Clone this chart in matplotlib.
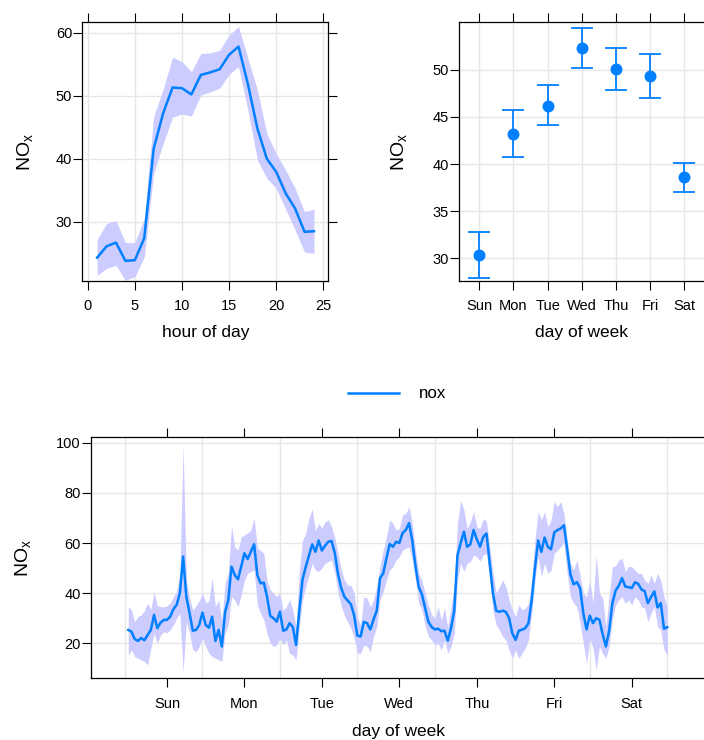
import numpy as np
import matplotlib
matplotlib.use('Agg')
import matplotlib.pyplot as plt
from matplotlib.lines import Line2D

plt.rcParams['font.family'] = ['Liberation Sans', 'DejaVu Sans']
plt.rcParams['mathtext.fontset'] = 'custom'
plt.rcParams['mathtext.rm'] = 'Liberation Sans'
plt.rcParams['mathtext.it'] = 'Liberation Sans'

LINE = '#0080ff'
BAND = '#ccccff'
GRID = '#e6e6e6'
YLAB = r'NO$_{\mathrm{x}}$'

# ---- hour of day ----
hours = list(range(1, 25))
hour_mean = [24.3, 26.1, 26.7, 23.8, 23.9, 27.4, 41.6, 47.2, 51.3, 51.2, 50.2, 53.3,
             53.7, 54.2, 56.5, 57.8, 51.8, 44.8, 40.0, 37.9, 34.5, 32.1, 28.4, 28.5]
hour_upper = [27.2, 29.7, 30.2, 26.7, 26.7, 30.5, 46.7, 51.0, 56.1, 55.4, 53.8, 56.7,
              56.8, 57.2, 59.6, 61.0, 55.9, 50.9, 44.0, 40.8, 38.2, 35.3, 31.6, 32.0]
hour_lower = [21.5, 22.6, 23.1, 20.7, 21.3, 24.4, 37.7, 42.4, 46.6, 47.1, 46.8, 50.1,
              50.6, 51.2, 53.4, 54.6, 47.7, 39.8, 36.9, 35.3, 32.0, 28.7, 25.2, 25.0]

# ---- day of week ----
days = ['Sun', 'Mon', 'Tue', 'Wed', 'Thu', 'Fri', 'Sat']
day_mean = [30.4, 43.2, 46.2, 52.3, 50.1, 49.3, 38.6]
day_lower = [27.9, 40.7, 44.1, 50.2, 47.9, 47.0, 37.0]
day_upper = [32.8, 45.7, 48.4, 54.4, 52.3, 51.7, 40.1]

# ---- hour of week (Sun..Sat, 24 values each) ----
sun_mean = [25.3, 24.6, 21.7, 20.9, 22.1, 21.2, 23.3, 25.3, 31.3, 26.0, 28.2, 29.3,
            29.3, 30.6, 33.6, 35.3, 40.0, 54.6, 38.6, 32.0, 25.0, 25.3, 27.3, 32.2]
sun_upper = [34.6, 33.3, 28.6, 30.6, 31.3, 33.0, 36.0, 33.5, 40.6, 35.0, 34.6, 34.5,
             35.0, 36.0, 38.6, 40.6, 48.0, 99.0, 45.0, 38.0, 33.3, 35.0, 37.0, 40.0]
sun_lower = [15.3, 17.3, 14.7, 14.0, 13.4, 12.7, 11.4, 18.0, 24.0, 20.0, 23.3, 24.6,
             24.2, 25.3, 27.3, 30.0, 32.0, 8.5, 28.6, 24.0, 17.3, 16.7, 18.7, 22.0]

mon_mean = [27.3, 26.2, 30.6, 20.9, 25.3, 18.7, 32.4, 37.3, 50.6, 47.2, 45.5, 50.6,
            55.9, 53.6, 56.5, 59.5, 47.2, 43.9, 44.2, 38.6, 30.9, 30.0, 28.6, 32.6]
mon_upper = [36.0, 37.0, 46.0, 34.6, 37.3, 29.3, 43.9, 48.0, 67.0, 58.5, 57.2, 62.5,
             63.2, 64.0, 65.2, 70.0, 58.0, 57.0, 56.0, 45.0, 41.3, 40.0, 38.6, 40.0]
mon_lower = [18.7, 16.0, 14.7, 14.0, 13.4, 12.7, 24.0, 27.3, 38.6, 37.3, 34.6, 39.3,
             45.2, 47.9, 48.6, 49.2, 35.3, 32.0, 29.3, 24.0, 20.0, 18.7, 19.3, 22.0]

tue_mean = [25.0, 25.5, 28.0, 26.5, 19.3, 33.0, 45.5, 50.5, 55.0, 59.5, 56.5, 61.0,
            57.0, 59.0, 60.5, 60.8, 56.0, 47.5, 42.0, 38.5, 37.0, 35.5, 31.0, 23.0]
tue_upper = [33.0, 34.6, 37.3, 33.3, 26.6, 49.0, 61.0, 64.0, 70.0, 73.5, 65.0, 67.8,
             66.0, 68.5, 69.2, 66.5, 62.0, 56.0, 49.2, 45.2, 43.2, 43.0, 40.0, 30.0]
tue_lower = [19.3, 21.3, 16.0, 15.3, 13.4, 26.6, 37.3, 42.6, 47.2, 51.9, 49.2, 48.6,
             50.0, 51.9, 52.6, 53.2, 48.0, 40.0, 35.0, 31.0, 28.5, 26.0, 22.0, 16.0]

wed_mean = [22.7, 28.5, 28.0, 25.5, 29.5, 33.0, 45.9, 47.9, 53.9, 59.6, 58.5, 60.5,
            60.0, 64.0, 65.2, 68.0, 61.0, 50.8, 42.5, 39.5, 34.0, 28.5, 26.5, 25.5]
wed_upper = [27.3, 38.6, 38.0, 34.6, 37.3, 42.6, 50.6, 57.2, 62.5, 69.2, 67.8, 65.2,
             65.8, 71.2, 71.8, 74.5, 67.8, 57.2, 48.0, 45.0, 40.0, 35.0, 31.5, 30.0]
wed_lower = [16.0, 19.3, 18.7, 16.7, 22.7, 26.6, 37.3, 40.6, 45.2, 49.2, 50.6, 53.2,
             54.6, 57.2, 57.9, 58.5, 53.2, 45.2, 36.0, 33.3, 27.0, 22.7, 21.3, 19.3]

thu_mean = [25.8, 24.8, 25.0, 21.0, 26.0, 33.0, 55.0, 60.0, 64.5, 58.5, 59.5, 65.2,
            61.5, 58.5, 62.5, 63.8, 52.0, 40.0, 33.0, 32.5, 33.0, 32.5, 30.0, 24.0]
thu_upper = [34.6, 29.3, 34.0, 26.6, 34.6, 42.6, 67.8, 77.0, 73.2, 65.8, 68.5, 72.5,
             66.5, 65.8, 69.8, 68.5, 58.5, 48.0, 40.0, 42.6, 45.2, 42.6, 37.3, 33.3]
thu_lower = [20.0, 17.3, 21.3, 16.0, 18.7, 24.0, 45.2, 51.9, 48.6, 52.0, 52.6, 55.3,
             54.6, 52.6, 55.3, 55.9, 45.2, 33.0, 27.3, 25.3, 22.7, 21.3, 17.3, 14.0]

fri_mean = [21.3, 25.0, 25.4, 26.0, 28.0, 37.0, 50.0, 61.0, 56.5, 62.2, 58.5, 57.5,
            64.2, 65.2, 65.8, 67.1, 57.5, 47.5, 43.5, 44.4, 42.0, 32.0, 25.5, 31.0]
fri_upper = [30.6, 35.3, 33.3, 34.0, 35.9, 45.2, 61.2, 72.5, 69.2, 72.5, 66.5, 69.2,
             76.5, 74.5, 76.5, 71.8, 61.2, 52.0, 49.2, 53.2, 47.0, 40.0, 38.6, 45.0]
fri_lower = [17.3, 14.0, 16.0, 18.0, 21.3, 32.0, 45.2, 54.6, 46.6, 51.9, 47.9, 49.2,
             55.9, 57.2, 58.5, 60.0, 47.9, 38.6, 36.0, 34.6, 28.0, 20.0, 12.0, 22.0]

sat_mean = [28.0, 30.0, 29.3, 23.5, 18.7, 25.0, 36.0, 41.0, 43.0, 46.0, 42.6, 42.4,
            42.0, 44.3, 43.7, 41.5, 40.8, 36.0, 38.5, 40.7, 34.3, 36.0, 25.8, 26.4]
sat_upper = [36.0, 55.0, 40.0, 38.0, 26.6, 38.6, 50.6, 50.8, 53.2, 53.9, 48.6, 50.6,
             50.6, 49.2, 47.9, 47.9, 45.2, 43.9, 47.2, 43.9, 47.9, 45.0, 38.6, 34.6]
sat_lower = [18.0, 9.4, 18.7, 16.0, 14.0, 18.7, 29.3, 35.3, 37.3, 38.6, 35.9, 37.3,
             35.3, 38.6, 37.3, 34.6, 34.0, 28.6, 32.0, 34.6, 26.6, 25.3, 17.3, 15.3]

week_mean = sun_mean + mon_mean + tue_mean + wed_mean + thu_mean + fri_mean + sat_mean
week_upper = sun_upper + mon_upper + tue_upper + wed_upper + thu_upper + fri_upper + sat_upper
week_lower = sun_lower + mon_lower + tue_lower + wed_lower + thu_lower + fri_lower + sat_lower
week_hours = list(range(1, 169))

W, H = 704, 740
fig = plt.figure(figsize=(W / 100, H / 100), dpi=100)


def px_axes(l, t, r, b):
    return fig.add_axes([l / W, 1 - b / H, (r - l) / W, (b - t) / H])


def style(ax, top=True, right=True):
    for s in ax.spines.values():
        s.set_color('black')
        s.set_linewidth(0.9)
    ax.tick_params(which='major', direction='out', length=6.5, width=0.8,
                   top=top, right=right, labeltop=False, labelright=False,
                   labelsize=10.5, colors='black')
    ax.tick_params(axis='x', which='major', pad=6.8)
    ax.tick_params(axis='y', which='major', pad=0.8)
    ax.set_axisbelow(True)


LABFS = 12.5
YLABFS = 14

# top-left: hour of day
ax1 = px_axes(82.3, 22.3, 328.3, 281)
ax1.fill_between(hours, hour_lower, hour_upper, color=BAND, lw=0)
ax1.plot(hours, hour_mean, color=LINE, lw=1.8)
ax1.set_xlim(-0.57, 25.52)
ax1.set_ylim(20.6, 61.65)
ax1.set_xticks([0, 5, 10, 15, 20, 25])
ax1.set_yticks([30, 40, 50, 60])
ax1.grid(color=GRID, lw=1)
style(ax1)
ax1.set_xlabel('hour of day', fontsize=LABFS, va='center')
ax1.xaxis.set_label_coords(0.5, -0.201)
ax1.set_ylabel(YLAB, fontsize=YLABFS, va='center', ha='center')
ax1.yaxis.set_label_coords(-0.233, 0.5)

# top-right: day of week
ax2 = px_axes(458.7, 22.3, 705, 281)
xd = np.arange(1, 8)
yerr = [np.array(day_mean) - np.array(day_lower), np.array(day_upper) - np.array(day_mean)]
ax2.errorbar(xd, day_mean, yerr=yerr, fmt='o', color=LINE, ms=7.6, elinewidth=1.3,
             capsize=7.8, capthick=1.3)
ax2.set_xlim(0.4, 7.6)
ax2.set_ylim(27.6, 55.03)
ax2.set_xticks(xd)
ax2.set_xticklabels(days)
ax2.set_yticks([30, 35, 40, 45, 50])
ax2.grid(color=GRID, lw=1)
style(ax2)
ax2.set_xlabel('day of week', fontsize=LABFS, va='center')
ax2.xaxis.set_label_coords(0.5, -0.201)
ax2.set_ylabel(YLAB, fontsize=YLABFS, va='center', ha='center')
ax2.yaxis.set_label_coords(-0.2436, 0.5)

# legend
fig.add_artist(Line2D([348.3 / W, 399.3 / W], [1 - 393.3 / H, 1 - 393.3 / H],
                      color=LINE, lw=1.8, transform=fig.transFigure))
fig.text(419.3 / W, 1 - 393.3 / H, 'nox', fontsize=12.2, va='center', ha='left')

# bottom: hour of week
ax3 = px_axes(91, 437.3, 705, 678.3)
ax3.fill_between(week_hours, week_lower, week_upper, color=BAND, lw=0)
ax3.plot(week_hours, week_mean, color=LINE, lw=1.8)
ax3.set_xlim(-10.54, 179.7)
ax3.set_ylim(6.0, 102.2)
ax3.set_xticks([13 + 24 * k for k in range(7)])
ax3.set_xticklabels(days)
ax3.set_xticks([24 * k for k in range(8)], minor=True)
ax3.set_yticks([20, 40, 60, 80, 100])
ax3.grid(axis='y', which='major', color=GRID, lw=1)
ax3.grid(axis='x', which='minor', color=GRID, lw=1)
ax3.tick_params(which='minor', length=0)
style(ax3)
ax3.set_xlabel('day of week', fontsize=LABFS, va='center')
ax3.xaxis.set_label_coords(0.5, -0.2216)
ax3.set_ylabel(YLAB, fontsize=YLABFS, va='center', ha='center')
ax3.yaxis.set_label_coords(-0.110, 0.5)

fig.savefig('out.png', dpi=100)
